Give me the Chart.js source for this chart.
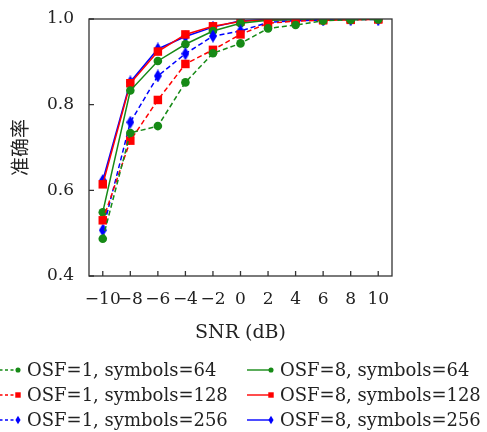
<!DOCTYPE html>
<html>
<head>
<meta charset="utf-8">
<script src="https://cdn.jsdelivr.net/npm/chart.js@4/dist/chart.umd.min.js"></script>
<style>
  html, body { margin: 0; padding: 0; background: #fff; }
  #wrap { width: 487px; height: 432px; }
</style>
</head>
<body>
<div id="wrap"><canvas id="acc-chart" width="487" height="432"></canvas></div>
<script>
// SNR values (dB) and tick labels
var snr    = [-10, -8, -6, -4, -2, 0, 2, 4, 6, 8, 10];
var xTicks = [-10, -8, -6, -4, -2, 0, 2, 4, 6, 8, 10];
var yTicks = [0.4, 0.6, 0.8, 1.0];

// accuracy per configuration
var osf1_64  = [0.487, 0.734, 0.750, 0.852, 0.920, 0.943, 0.978, 0.986, 0.996, 0.998, 0.999];
var osf1_128 = [0.530, 0.716, 0.811, 0.895, 0.928, 0.964, 0.990, 0.995, 0.997, 0.998, 0.999];
var osf1_256 = [0.507, 0.759, 0.867, 0.919, 0.960, 0.972, 0.992, 0.996, 0.998, 0.999, 0.999];
var osf8_64  = [0.549, 0.833, 0.902, 0.941, 0.972, 0.990, 0.997, 0.998, 0.999, 0.999, 1.000];
var osf8_128 = [0.614, 0.850, 0.924, 0.964, 0.983, 0.994, 0.998, 0.999, 0.999, 1.000, 1.000];
var osf8_256 = [0.623, 0.853, 0.930, 0.959, 0.981, 0.996, 0.999, 0.999, 1.000, 1.000, 1.000];

var labels = [
    'OSF=1, symbols=64', 'OSF=1, symbols=128', 'OSF=1, symbols=256',
    'OSF=8, symbols=64', 'OSF=8, symbols=128', 'OSF=8, symbols=256'
];

var GREEN = '#168a16';
var RED   = '#ff0000';
var BLUE  = '#0000ff';
var TEXT  = '#222';
var SERIF = '"DejaVu Serif", "Liberation Serif", serif';

// narrow diamond marker (pgfplots diamond*)
function makeDiamond(w, h, color) {
    var c = document.createElement('canvas');
    c.width = w; c.height = h;
    var g = c.getContext('2d');
    g.fillStyle = color;
    g.beginPath();
    g.moveTo(w / 2, 0);
    g.lineTo(w, h / 2);
    g.lineTo(w / 2, h);
    g.lineTo(0, h / 2);
    g.closePath();
    g.fill();
    return c;
}
var diamond = makeDiamond(8, 13, BLUE);

function series(label, data, color, style, dashed) {
    return {
        label: label,
        data: snr.map(function(x, i) { return { x: x, y: data[i] }; }),
        borderColor: color,
        backgroundColor: color,
        borderWidth: 1.5,
        borderDash: dashed ? [5, 3] : [],
        pointStyle: style === 'diamond' ? diamond : style,
        pointRadius: style === 'rect' ? 6 : 4.3,
        pointBorderWidth: 0,
        pointBackgroundColor: color,
        fill: false,
        tension: 0,
        _marker: style,
        _dashed: dashed
    };
}

var datasets = [
    series(labels[0], osf1_64,  GREEN, 'circle',  true),
    series(labels[1], osf1_128, RED,   'rect',    true),
    series(labels[2], osf1_256, BLUE,  'diamond', true),
    series(labels[3], osf8_64,  GREEN, 'circle',  false),
    series(labels[4], osf8_128, RED,   'rect',    false),
    series(labels[5], osf8_256, BLUE,  'diamond', false)
];

function drawMarker(ctx, style, x, y, color, s) {
    ctx.fillStyle = color;
    ctx.beginPath();
    if (style === 'circle') {
        ctx.arc(x, y, 3 * s, 0, Math.PI * 2);
    } else if (style === 'rect') {
        ctx.rect(x - 3.2 * s, y - 3.2 * s, 6.4 * s, 6.4 * s);
    } else {
        ctx.moveTo(x, y - 5 * s);
        ctx.lineTo(x + 3 * s, y);
        ctx.lineTo(x, y + 5 * s);
        ctx.lineTo(x - 3 * s, y);
        ctx.closePath();
    }
    ctx.fill();
}

// frame, inward ticks and the legend below the axis
var framePlugin = {
    id: 'frame',
    afterDraw: function(chart) {
        var ctx = chart.ctx;
        var a = chart.chartArea;
        var xs = chart.scales.x, ys = chart.scales.y;
        ctx.save();
        ctx.strokeStyle = '#333';
        ctx.lineWidth = 1.3;
        ctx.strokeRect(a.left, a.top, a.right - a.left, a.bottom - a.top);
        ctx.beginPath();
        xTicks.forEach(function(v) {
            var px = xs.getPixelForValue(v);
            ctx.moveTo(px, a.bottom); ctx.lineTo(px, a.bottom - 5);
        });
        yTicks.forEach(function(v) {
            var py = ys.getPixelForValue(v);
            ctx.moveTo(a.left, py); ctx.lineTo(a.left + 5, py);
        });
        ctx.stroke();

        // legend: two columns of three
        var cols = [-6, 247];
        var rows = [370, 395, 420];
        ctx.font = '18px ' + SERIF;
        ctx.textBaseline = 'middle';
        chart.data.datasets.forEach(function(ds, i) {
            var x0 = cols[Math.floor(i / 3)];
            var y = rows[i % 3];
            ctx.strokeStyle = ds.borderColor;
            ctx.lineWidth = 1.4;
            ctx.setLineDash(ds._dashed ? [3, 2.5] : []);
            ctx.beginPath();
            ctx.moveTo(x0, y); ctx.lineTo(x0 + 24, y);
            ctx.stroke();
            ctx.setLineDash([]);
            drawMarker(ctx, ds._marker, x0 + 24, y, ds.borderColor, 0.85);
            ctx.fillStyle = TEXT;
            ctx.fillText(ds.label, x0 + 33, y + 1);
        });
        ctx.restore();
    }
};

function minus(v) {
    return v < 0 ? '\u2212' + Math.abs(v) : String(v);
}

new Chart(document.getElementById('acc-chart').getContext('2d'), {
    type: 'line',
    data: { datasets: datasets },
    options: {
        responsive: false,
        animation: false,
        events: [],
        layout: { padding: { left: 0, right: 95, top: 19, bottom: 86 } },
        plugins: {
            legend: { display: false },
            tooltip: { enabled: false }
        },
        scales: {
            x: {
                type: 'linear',
                min: -11,
                max: 11,
                afterBuildTicks: function(scale) {
                    scale.ticks = xTicks.map(function(v) { return { value: v }; });
                },
                afterFit: function(scale) {
                    scale.height = 70;
                    scale.paddingLeft = 0; scale.paddingRight = 0;
                },
                grid: { display: false, drawTicks: false },
                border: { display: false },
                ticks: {
                    autoSkip: false,
                    maxRotation: 0,
                    padding: 13,
                    color: TEXT,
                    font: { family: SERIF, size: 17 },
                    callback: function(v) { return minus(v); }
                },
                title: {
                    display: true,
                    text: 'SNR (dB)',
                    color: TEXT,
                    font: { family: SERIF, size: 19 },
                    padding: { top: 0, bottom: 2 }
                }
            },
            y: {
                min: 0.4,
                max: 1.0,
                afterBuildTicks: function(scale) {
                    scale.ticks = yTicks.map(function(v) { return { value: v }; });
                },
                afterFit: function(scale) {
                    scale.width = 89;
                    scale.paddingTop = 0; scale.paddingBottom = 0;
                },
                grid: { display: false, drawTicks: false },
                border: { display: false },
                ticks: {
                    padding: 15,
                    color: TEXT,
                    font: { family: SERIF, size: 17 },
                    callback: function(v) { return v.toFixed(1); }
                },
                title: {
                    display: true,
                    text: '准确率',
                    color: TEXT,
                    font: { family: '"Noto Sans CJK SC", sans-serif', size: 19 },
                    padding: { top: 8, bottom: 0 }
                }
            }
        }
    },
    plugins: [framePlugin]
});
</script>
</body>
</html>
